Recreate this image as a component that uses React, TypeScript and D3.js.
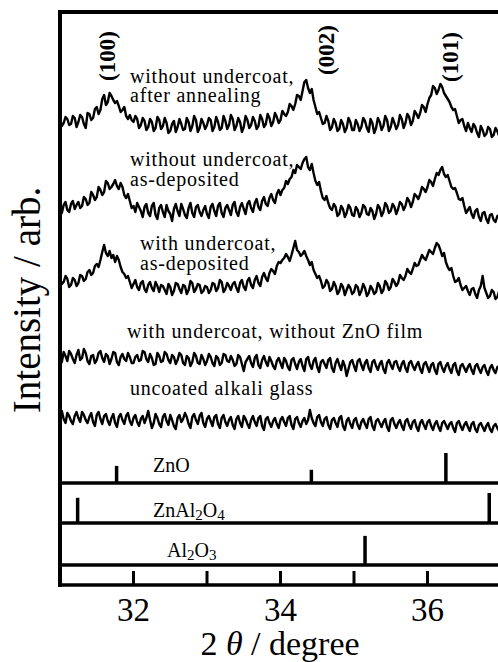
import * as d3 from "d3";
import { useEffect, useRef } from "react";

// XRD scan, 2theta grid
const thetaStart = 31;
const thetaStep = 0.025;

// without undercoat, after annealing
const trace1 = [
  20, 14, 17, 23, 21, 15, 16, 24, 22, 13, 18, 25, 23, 16, 12, 27, 26, 20, 22, 31, 33, 26, 30, 41, 45, 35, 38, 47, 44, 40, 37, 39, 34, 28, 30, 33, 24, 21, 25, 20,
  18, 24, 21, 12, 15, 22, 19, 10, 13, 21, 18, 9, 12, 23, 20, 11, 14, 22, 17, 7, 9, 16, 19, 8, 13, 21, 16, 10, 11, 22, 18, 9, 14, 24, 20, 8, 12, 21, 17, 11,
  15, 22, 20, 9, 13, 23, 18, 10, 12, 24, 19, 11, 15, 25, 21, 10, 14, 22, 18, 8, 13, 24, 20, 12, 15, 23, 19, 11, 14, 25, 21, 13, 16, 26, 22, 14, 18, 27, 23, 17,
  20, 29, 26, 24, 28, 36, 34, 30, 36, 45, 44, 40, 49, 58, 60, 52, 47, 51, 40, 33, 26, 28, 22, 16, 17, 24, 19, 10, 13, 21, 17, 9, 11, 20, 16, 8, 12, 22, 18, 10,
  10, 20, 16, 9, 13, 22, 19, 12, 8, 21, 17, 7, 12, 22, 18, 10, 14, 24, 20, 9, 13, 22, 17, 11, 15, 25, 21, 12, 17, 26, 23, 15, 19, 29, 26, 22, 27, 35, 33, 28,
  36, 42, 45, 54, 52, 46, 50, 56, 53, 47, 44, 41, 38, 33, 30, 31, 24, 17, 20, 21, 14, 9, 17, 12, 8, 16, 13, 7, 3, 14, 10, 4, 6, 13, 11, 3, 5, 12, 9, 4, 7,
];
// without undercoat, as-deposited
const trace2 = [
  17, 12, 20, 23, 15, 13, 21, 24, 16, 20, 23, 17, 19, 28, 26, 20, 22, 33, 30, 25, 28, 38, 35, 30, 33, 44, 42, 36, 38, 41, 45, 39, 36, 42, 38, 30, 27, 31, 24, 17,
  19, 13, 22, 18, 14, 8, 18, 21, 12, 9, 19, 22, 10, 6, 17, 20, 13, 8, 20, 14, 11, 4, 16, 21, 14, 9, 21, 16, 10, 7, 17, 22, 12, 8, 18, 20, 13, 9, 15, 19,
  11, 7, 18, 21, 14, 9, 19, 22, 12, 8, 17, 20, 15, 10, 20, 23, 13, 9, 18, 22, 16, 11, 21, 24, 17, 13, 22, 26, 18, 15, 24, 28, 21, 19, 27, 31, 25, 22, 31, 35,
  30, 35, 37, 44, 41, 46, 48, 55, 52, 60, 58, 56, 62, 66, 68, 58, 55, 61, 52, 44, 40, 43, 34, 27, 25, 29, 22, 17, 15, 21, 18, 9, 11, 19, 16, 8, 12, 20, 17, 10,
  9, 18, 15, 8, 12, 20, 18, 11, 10, 17, 14, 6, 11, 20, 17, 9, 13, 22, 19, 12, 14, 21, 18, 11, 16, 23, 21, 15, 19, 27, 24, 18, 23, 31, 29, 26, 31, 38, 36, 33,
  38, 45, 43, 39, 46, 52, 50, 55, 58, 51, 48, 50, 44, 38, 36, 37, 32, 26, 25, 27, 19, 12, 15, 18, 11, 7, 14, 16, 8, 4, 12, 13, 6, 2, 10, 11, 5, 3, 9, 10, 6,
];
// with undercoat, as-deposited
const trace3 = [
  22, 16, 18, 24, 21, 13, 15, 22, 20, 14, 17, 25, 24, 19, 21, 28, 30, 25, 27, 34, 36, 33, 40, 48, 55, 47, 44, 49, 42, 45, 38, 44, 40, 33, 28, 26, 22, 24, 18, 12,
  16, 20, 13, 10, 17, 19, 11, 8, 15, 18, 12, 9, 18, 14, 8, 15, 14, 10, 6, 16, 13, 5, 9, 17, 16, 11, 7, 15, 14, 6, 10, 19, 17, 8, 11, 16, 15, 7, 9, 14,
  13, 7, 10, 17, 16, 9, 12, 20, 18, 8, 11, 17, 14, 10, 16, 18, 12, 8, 17, 20, 13, 10, 19, 22, 15, 12, 20, 24, 17, 14, 23, 27, 22, 19, 27, 31, 29, 26, 34, 38,
  37, 40, 42, 46, 43, 39, 45, 52, 59, 50, 48, 44, 46, 49, 44, 40, 35, 38, 30, 26, 22, 24, 19, 12, 14, 20, 17, 9, 11, 18, 14, 6, 9, 16, 13, 5, 10, 15, 12, 6,
  8, 15, 13, 5, 9, 16, 12, 4, 7, 14, 11, 6, 8, 17, 14, 7, 10, 19, 16, 10, 13, 21, 18, 14, 17, 25, 22, 20, 24, 31, 28, 26, 31, 37, 34, 35, 40, 45, 42, 40,
  45, 50, 48, 46, 52, 57, 55, 50, 44, 47, 38, 33, 30, 32, 24, 18, 19, 22, 15, 10, 12, 14, 9, 5, 11, 12, 6, 2, 10, 14, 24, 12, 7, 2, 4, 10, 8, 1, 3, 9, 6,
];
// with undercoat, without ZnO film
const trace4 = [
  18, 13, 23, 19, 14, 24, 21, 16, 12, 20, 25, 15, 17, 26, 22, 14, 11, 19, 20, 12, 15, 22, 24, 17, 13, 21, 19, 11, 16, 23, 22, 13, 10, 18, 21, 16, 14, 22, 18, 12,
  12, 18, 20, 14, 15, 24, 23, 16, 13, 21, 17, 10, 11, 22, 19, 13, 14, 23, 21, 15, 12, 20, 18, 11, 15, 22, 20, 12, 10, 19, 17, 9, 13, 22, 19, 12, 11, 20, 16, 10,
  14, 21, 18, 12, 9, 19, 17, 10, 12, 21, 20, 14, 13, 19, 15, 9, 11, 20, 18, 11, 4, 13, 16, 19, 12, 8, 17, 20, 10, 7, 15, 19, 13, 9, 18, 14, 9, 6, 14, 17,
  12, 7, 17, 14, 8, 5, 15, 17, 11, 6, 13, 16, 9, 4, 16, 18, 10, 6, 14, 17, 8, 3, 13, 15, 11, 7, 15, 17, 7, 3, 12, 16, 10, 5, 14, 9, -1, 6, 13, 15,
  9, 4, 14, 16, 10, 5, 12, 15, 7, 3, 13, 15, 9, 5, 11, 14, 6, 2, 12, 15, 10, 6, 13, 14, 8, 4, 11, 14, 7, 3, 12, 14, 9, 5, 10, 13, 6, 2, 11, 13,
  8, 3, 10, 12, 5, 1, 11, 13, 7, 3, 9, 12, 6, 2, 10, 12, 4, 0, 9, 11, 7, 3, 8, 11, 5, 1, 9, 11, 6, 2, 8, 10, 4, 0, 7, 10, 5, 2, 8, 9, 6,
];
// uncoated alkali glass
const trace5 = [
  17, 21, 13, 9, 19, 16, 11, 8, 16, 20, 14, 10, 20, 17, 12, 9, 15, 19, 10, 6, 17, 20, 13, 8, 16, 18, 11, 7, 14, 18, 9, 5, 15, 18, 12, 8, 16, 19, 11, 7,
  14, 17, 10, 6, 13, 16, 9, 14, 21, 12, 4, 9, 18, 14, 8, 5, 15, 18, 11, 7, 17, 12, 6, 3, 14, 17, 10, 13, 19, 15, 8, 4, 15, 18, 12, 8, 16, 19, 9, 5,
  13, 16, 11, 6, 15, 17, 8, 4, 14, 17, 10, 6, 12, 15, 7, 3, 13, 16, 9, 5, 16, 13, 8, 4, 12, 16, 10, 6, 14, 16, 6, 2, 13, 15, 9, 5, 11, 14, 8, 4,
  12, 15, 10, 6, 14, 16, 7, 3, 13, 15, 9, 5, 11, 14, 8, 12, 22, 14, 9, 6, 15, 17, 10, 6, 13, 15, 7, 3, 12, 14, 9, 5, 14, 16, 6, 2, 11, 14, 8, 4,
  12, 14, 7, 3, 10, 13, 8, 4, 13, 15, 6, 2, 11, 13, 9, 5, 10, 13, 5, 1, 12, 14, 8, 4, 9, 12, 6, 2, 11, 13, 7, 3, 10, 12, 5, 1, 9, 12, 7, 3,
  10, 12, 6, 2, 8, 11, 5, 1, 9, 11, 7, 3, 8, 10, 4, 0, 9, 11, 6, 2, 7, 10, 5, 1, 8, 10, 3, 0, 7, 9, 5, 1, 6, 9, 3, 0, 6, 8, 4, 1, 5,
];
const traces = [trace1, trace2, trace3, trace4, trace5];
const traceOffsets = [445, 360, 285, 210, 153];

// reference patterns (2theta, relative intensity)
const znoPos = [31.77, 34.42, 36.25];
const znoInt = [57, 44, 100];
const spinelPos = [31.24, 36.84];
const spinelInt = [84, 100];
const aluminaPos = [35.15];
const aluminaInt = [97];

const peakLabels = ["(100)", "(002)", "(101)"];
const peakLabelPos = [31.64, 34.62, 36.31];
const peakLabelY = [56, 50, 57];

const xTicks = [32, 33, 34, 35, 36, 37];
const xTickLabels = [32, 34, 36];

const serif = "'Liberation Serif', 'Times New Roman', serif";

export default function App() {
  const svgRef = useRef<SVGSVGElement>(null);
  const width = 498;
  const height = 662;

  useEffect(() => {
    const svg = d3.select(svgRef.current);
    svg.selectAll("*").remove();

    const left = 60;
    const top = 12;
    const bottom = 585;
    const x = d3.scaleLinear().domain([31, 37]).range([left, 501]);
    const y = d3.scaleLinear().domain([0, bottom - top]).range([bottom, top]);
    const stick = d3.scaleLinear().domain([0, 100]).range([0, 30]);

    // patterns
    const line = d3
      .line<number>()
      .x((_, i) => x(thetaStart + i * thetaStep))
      .y((d) => d);
    traces.forEach((tr, k) => {
      const ys = tr.map((v) => y(traceOffsets[k] + v));
      svg
        .append("path")
        .attr("d", line(ys))
        .attr("fill", "none")
        .attr("stroke", "#000")
        .attr("stroke-width", 2.4)
        .attr("stroke-linejoin", "round");
    });

    // frame
    svg.append("line").attr("x1", left - 2).attr("x2", width).attr("y1", top).attr("y2", top)
      .attr("stroke", "#000").attr("stroke-width", 4);
    svg.append("line").attr("x1", left).attr("x2", left).attr("y1", top - 2).attr("y2", bottom + 2)
      .attr("stroke", "#000").attr("stroke-width", 4);

    // reference panels
    const panels = [
      { base: 483, pos: znoPos, int: znoInt },
      { base: 523, pos: spinelPos, int: spinelInt },
      { base: 565, pos: aluminaPos, int: aluminaInt },
    ];
    panels.forEach((p) => {
      svg.append("line").attr("x1", left).attr("x2", width).attr("y1", p.base).attr("y2", p.base)
        .attr("stroke", "#000").attr("stroke-width", 3.5);
      svg.selectAll(null)
        .data(p.pos)
        .enter()
        .append("line")
        .attr("x1", (d) => x(d))
        .attr("x2", (d) => x(d))
        .attr("y1", p.base)
        .attr("y2", (_, i) => p.base - stick(p.int[i]))
        .attr("stroke", "#000")
        .attr("stroke-width", 3.5);
    });

    // x axis
    svg.append("line").attr("x1", left).attr("x2", width).attr("y1", bottom).attr("y2", bottom)
      .attr("stroke", "#000").attr("stroke-width", 3.5);
    svg.selectAll(null)
      .data(xTicks)
      .enter()
      .append("line")
      .attr("x1", (d) => x(d))
      .attr("x2", (d) => x(d))
      .attr("y1", bottom)
      .attr("y2", bottom - 14)
      .attr("stroke", "#000")
      .attr("stroke-width", 3);
    svg.selectAll(null)
      .data(xTickLabels)
      .enter()
      .append("text")
      .attr("x", (d) => x(d))
      .attr("y", 621)
      .attr("text-anchor", "middle")
      .style("font-family", serif)
      .style("font-size", "33px")
      .text((d) => d);

    const xl = svg.append("text")
      .attr("x", 280)
      .attr("y", 655)
      .attr("text-anchor", "middle")
      .style("font-family", serif)
      .style("font-size", "34px");
    xl.append("tspan").text("2 ");
    xl.append("tspan").style("font-style", "italic").text("θ");
    xl.append("tspan").text(" / degree");

    svg.append("text")
      .attr("transform", "translate(40,300) rotate(-90)")
      .attr("text-anchor", "middle")
      .style("font-family", serif)
      .style("font-size", "39px")
      .text("Intensity / arb.");

    // peak labels
    peakLabels.forEach((t, i) => {
      svg.append("text")
        .attr("transform", `translate(${x(peakLabelPos[i])},${peakLabelY[i]}) rotate(-90)`)
        .attr("text-anchor", "middle")
        .attr("dominant-baseline", "central")
        .style("font-family", serif)
        .style("font-weight", "bold")
        .style("font-size", "23px")
        .text(t);
    });

    // pattern labels
    const labels: [string, number, number][] = [
      ["without undercoat,", 130, 83],
      ["after annealing", 130, 102],
      ["without undercoat,", 130, 166],
      ["as-deposited", 130, 186],
      ["with undercoat,", 140, 250],
      ["as-deposited", 140, 270],
      ["with undercoat, without ZnO film", 127, 338],
      ["uncoated alkali glass", 130, 395],
    ];
    labels.forEach(([t, lx, ly]) => {
      svg.append("text")
        .attr("x", lx)
        .attr("y", ly)
        .style("font-family", serif)
        .style("font-size", "20px")
        .style("letter-spacing", "0.8px")
        .text(t);
    });

    // reference labels with subscripts
    const refLabel = (parts: [string, boolean][], lx: number, ly: number) => {
      const t = svg.append("text")
        .attr("x", lx)
        .attr("y", ly)
        .style("font-family", serif)
        .style("font-size", "20px");
      parts.forEach(([s, sub]) => {
        t.append("tspan")
          .attr("y", sub ? ly + 3 : ly)
          .style("font-size", sub ? "15px" : "20px")
          .text(s);
      });
    };
    refLabel([["ZnO", false]], 153, 472);
    refLabel([["ZnAl", false], ["2", true], ["O", false], ["4", true]], 153, 517);
    refLabel([["Al", false], ["2", true], ["O", false], ["3", true]], 167, 557);
  }, []);

  return (
    <div style={{ position: "absolute", left: 0, top: 0, width, height, background: "#fff" }}>
      <svg ref={svgRef} width={width} height={height}></svg>
    </div>
  );
}
